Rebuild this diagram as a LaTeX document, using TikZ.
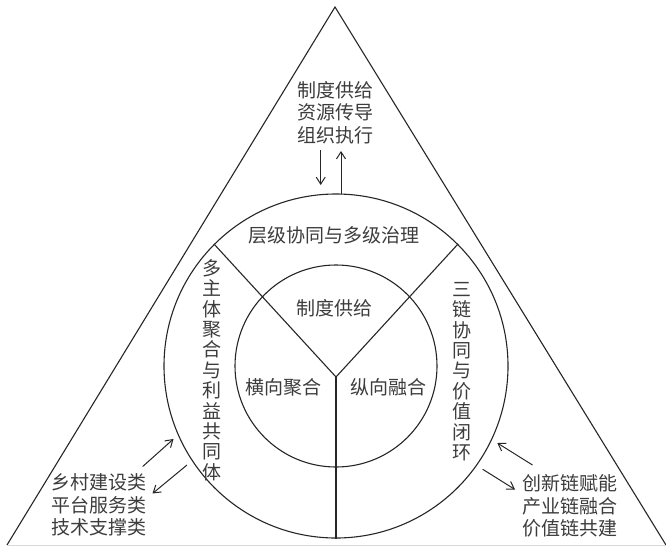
\documentclass[tikz,border=0pt]{standalone}
\usepackage{fontspec}
\setmainfont{Noto Sans CJK SC}
\usepackage{xcolor}
\usepackage{tikz}
\usetikzlibrary{arrows.meta,positioning}
\definecolor{ink}{HTML}{262626}
\definecolor{txt}{HTML}{3C3C3C}
\definecolor{faint}{HTML}{D8D8D8}
\tikzset{
  ring/.style={draw=ink,circle,line width=1.1pt,inner sep=0pt},
  edge/.style={draw=ink,line width=1.1pt},
  lbl/.style={text=txt,font=\fontsize{19}{22.5}\selectfont,align=center,inner sep=0pt},
  vlbl/.style={text=txt,font=\fontsize{19}{20.4}\selectfont,align=center,inner sep=0pt},
  flow/.style={-{Straight Barb[length=7pt,width=9pt]},draw=ink,line width=1pt}
}

\begin{document}
\begin{tikzpicture}[x=1pt,y=-1pt]
  \useasboundingbox (0,0) rectangle (666,546);
  % triangle
  \coordinate (apex) at (335,7);
  \coordinate (bl) at (7,545);
  \coordinate (br) at (666,545);
  \draw[edge] (bl) -- (apex) -- (br);
  \draw[draw=faint,line width=0.8pt] (bl) -- (br);
  % rings
  \node[ring, minimum size=344pt] (outer) at (336,366) {};
  \node[ring, minimum size=202pt] (inner) at (outer.center) {};
  \coordinate (y) at (336,377);
  \draw[edge] (outer.135) -- (y) -- (outer.45);
  \draw[edge] (y) -- (outer.south);
  % labels
  \node[lbl] (gov) at (334,235) {层级协同与多级治理};
  \node[lbl] (sup) at (334,308) {制度供给};
  \node[lbl] (hor) at (283,387) {横向聚合};
  \node[lbl] (ver) at (388,387) {纵向融合};
  \node[vlbl] (multi) at (212,370) {多\\主\\体\\聚\\合\\与\\利\\益\\共\\同\\体};
  \node[vlbl] (chain) at (462,371.5) {三\\链\\协\\同\\与\\价\\值\\闭\\环};
  \node[lbl] (top) at (335,112.5) {制度供给\\资源传导\\组织执行};
  \node[lbl, text depth=0pt] (left) at (98.5,504.5) {乡村建设类\\平台服务类\\技术支撑类};
  \node[lbl, text depth=0pt] (right) at (570,505) {创新链赋能\\产业链融合\\价值链共建};
  % arrows
  \coordinate (t1) at (320.7,150);
  \coordinate (t2) at (320.7,185);
  \coordinate (t3) at (341,194);
  \coordinate (t4) at (341,151);
  \coordinate (l1) at (142.7,466.5);
  \coordinate (l2) at (173.5,439);
  \coordinate (l3) at (187,465);
  \coordinate (l4) at (152.5,493.5);
  \coordinate (r1) at (532.5,465);
  \coordinate (r2) at (497.3,443);
  \coordinate (r3) at (482.7,469.3);
  \coordinate (r4) at (515,489.5);
  \draw[flow] (t1) -- (t2); \draw[flow] (t3) -- (t4);
  \draw[flow] (l1) -- (l2); \draw[flow] (l3) -- (l4);
  \draw[flow] (r1) -- (r2); \draw[flow] (r3) -- (r4);
\end{tikzpicture}
\end{document}
